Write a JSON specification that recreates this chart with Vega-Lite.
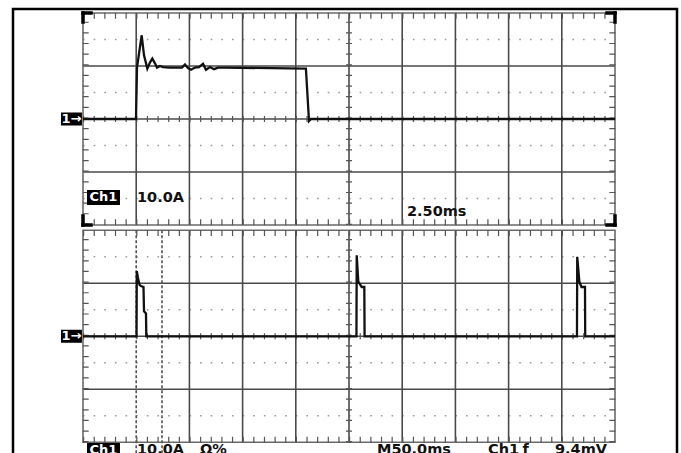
{
  "$schema": "https://vega.github.io/schema/vega-lite/v6.json",
  "width": 664,
  "height": 450,
  "autosize": {"type": "none"},
  "padding": {"left": 13, "top": 9, "right": 4, "bottom": 0},
  "background": "white",
  "config": {"view": {"stroke": "#000", "strokeWidth": 2.5}},
  "datasets": {
    "borders": [
      {"x": 0, "x2": 10, "y": 4.1, "y2": 8.1},
      {"x": 0, "x2": 10, "y": 0, "y2": 4}
    ],
    "grid": [
      {"x": 1, "x2": 1, "y": 4.1, "y2": 8.1},
      {"x": 2, "x2": 2, "y": 4.1, "y2": 8.1},
      {"x": 3, "x2": 3, "y": 4.1, "y2": 8.1},
      {"x": 4, "x2": 4, "y": 4.1, "y2": 8.1},
      {"x": 5, "x2": 5, "y": 4.1, "y2": 8.1},
      {"x": 6, "x2": 6, "y": 4.1, "y2": 8.1},
      {"x": 7, "x2": 7, "y": 4.1, "y2": 8.1},
      {"x": 8, "x2": 8, "y": 4.1, "y2": 8.1},
      {"x": 9, "x2": 9, "y": 4.1, "y2": 8.1},
      {"x": 0, "x2": 10, "y": 5.1, "y2": 5.1},
      {"x": 0, "x2": 10, "y": 6.1, "y2": 6.1},
      {"x": 0, "x2": 10, "y": 7.1, "y2": 7.1},
      {"x": 2, "x2": 2, "y": 0, "y2": 4},
      {"x": 3, "x2": 3, "y": 0, "y2": 4},
      {"x": 4, "x2": 4, "y": 0, "y2": 4},
      {"x": 5, "x2": 5, "y": 0, "y2": 4},
      {"x": 6, "x2": 6, "y": 0, "y2": 4},
      {"x": 7, "x2": 7, "y": 0, "y2": 4},
      {"x": 8, "x2": 8, "y": 0, "y2": 4},
      {"x": 9, "x2": 9, "y": 0, "y2": 4},
      {"x": 0, "x2": 10, "y": 1, "y2": 1},
      {"x": 0, "x2": 10, "y": 2, "y2": 2},
      {"x": 0, "x2": 10, "y": 3, "y2": 3}
    ],
    "ticks": [
      {"x": 0, "x2": 10, "y": 6.1, "y2": 6.1},
      {"x": 5, "x2": 5, "y": 4.1, "y2": 8.1},
      {"x": 0, "x2": 10, "y": 8.05, "y2": 8.05},
      {"x": 0, "x2": 10, "y": 4.15, "y2": 4.15},
      {"x": 0.05, "x2": 0.05, "y": 4.1, "y2": 8.1},
      {"x": 9.95, "x2": 9.95, "y": 4.1, "y2": 8.1},
      {"x": 0, "x2": 10, "y": 2, "y2": 2},
      {"x": 5, "x2": 5, "y": 0, "y2": 4},
      {"x": 0, "x2": 10, "y": 3.95, "y2": 3.95},
      {"x": 0, "x2": 10, "y": 0.05, "y2": 0.05},
      {"x": 0.05, "x2": 0.05, "y": 0, "y2": 4},
      {"x": 9.95, "x2": 9.95, "y": 0, "y2": 4}
    ],
    "dots": [
      {"x": 0, "x2": 10, "y": 4.6, "y2": 4.6},
      {"x": 0, "x2": 10, "y": 5.6, "y2": 5.6},
      {"x": 0, "x2": 10, "y": 6.6, "y2": 6.6},
      {"x": 0, "x2": 10, "y": 7.6, "y2": 7.6},
      {"x": 0, "x2": 10, "y": 0.5, "y2": 0.5},
      {"x": 0, "x2": 10, "y": 1.5, "y2": 1.5},
      {"x": 0, "x2": 10, "y": 2.5, "y2": 2.5},
      {"x": 0, "x2": 10, "y": 3.5, "y2": 3.5}
    ],
    "corners": [
      {"x": 0, "x2": 0.15, "y": 8.1, "y2": 8.1},
      {"x": 0, "x2": 0, "y": 8.1, "y2": 7.93},
      {"x": 9.85, "x2": 10, "y": 8.1, "y2": 8.1},
      {"x": 10, "x2": 10, "y": 8.1, "y2": 7.93},
      {"x": 0, "x2": 0.15, "y": 4.1, "y2": 4.1},
      {"x": 0, "x2": 0, "y": 4.1, "y2": 4.27},
      {"x": 9.85, "x2": 10, "y": 4.1, "y2": 4.1},
      {"x": 10, "x2": 10, "y": 4.1, "y2": 4.27}
    ],
    "cursors": [
      {"x": 1.0, "x2": 1.0, "y": 4, "y2": -0.315},
      {"x": 1.485, "x2": 1.485, "y": 4, "y2": -0.315}
    ],
    "traceTop": [
      {"i": 0, "x": 0, "y": 6.1},
      {"i": 1, "x": 0.996, "y": 6.1},
      {"i": 2, "x": 1.015, "y": 7.07},
      {"i": 3, "x": 1.103, "y": 7.68},
      {"i": 4, "x": 1.147, "y": 7.3},
      {"i": 5, "x": 1.209, "y": 7.05},
      {"i": 6, "x": 1.26, "y": 7.17},
      {"i": 7, "x": 1.303, "y": 7.24},
      {"i": 8, "x": 1.353, "y": 7.15},
      {"i": 9, "x": 1.391, "y": 7.07},
      {"i": 10, "x": 1.447, "y": 7.1},
      {"i": 11, "x": 1.504, "y": 7.08},
      {"i": 12, "x": 1.635, "y": 7.07},
      {"i": 13, "x": 1.861, "y": 7.07},
      {"i": 14, "x": 1.917, "y": 7.13},
      {"i": 15, "x": 1.974, "y": 7.06},
      {"i": 16, "x": 2.03, "y": 7.03},
      {"i": 17, "x": 2.105, "y": 7.07},
      {"i": 18, "x": 2.18, "y": 7.08},
      {"i": 19, "x": 2.256, "y": 7.14},
      {"i": 20, "x": 2.312, "y": 7.03},
      {"i": 21, "x": 2.387, "y": 7.08},
      {"i": 22, "x": 2.462, "y": 7.04},
      {"i": 23, "x": 2.538, "y": 7.07},
      {"i": 24, "x": 2.669, "y": 7.07},
      {"i": 25, "x": 4.19, "y": 7.05},
      {"i": 26, "x": 4.22, "y": 6.54},
      {"i": 27, "x": 4.248, "y": 6.06},
      {"i": 28, "x": 4.286, "y": 6.1},
      {"i": 29, "x": 10, "y": 6.1}
    ],
    "traceBottom": [
      {"i": 0, "x": 0, "y": 2},
      {"i": 1, "x": 1.006, "y": 2},
      {"i": 2, "x": 1.011, "y": 3.23},
      {"i": 3, "x": 1.034, "y": 3.1},
      {"i": 4, "x": 1.062, "y": 2.97},
      {"i": 5, "x": 1.09, "y": 2.95},
      {"i": 6, "x": 1.137, "y": 2.93},
      {"i": 7, "x": 1.147, "y": 2.47},
      {"i": 8, "x": 1.184, "y": 2.43},
      {"i": 9, "x": 1.19, "y": 2},
      {"i": 10, "x": 5.14, "y": 2},
      {"i": 11, "x": 5.145, "y": 3.53},
      {"i": 12, "x": 5.175, "y": 3.03},
      {"i": 13, "x": 5.239, "y": 2.93},
      {"i": 14, "x": 5.288, "y": 2.93},
      {"i": 15, "x": 5.293, "y": 2},
      {"i": 16, "x": 9.285, "y": 2},
      {"i": 17, "x": 9.29, "y": 3.5},
      {"i": 18, "x": 9.33, "y": 3.03},
      {"i": 19, "x": 9.37, "y": 2.93},
      {"i": 20, "x": 9.436, "y": 2.93},
      {"i": 21, "x": 9.44, "y": 2},
      {"i": 22, "x": 10, "y": 2}
    ],
    "boxes": [
      {"x": -0.414, "x2": -0.02, "y": 5.977, "y2": 6.223},
      {"x": -0.414, "x2": -0.02, "y": 1.877, "y2": 2.123},
      {"x": 0.075, "x2": 0.695, "y": 4.477, "y2": 4.76},
      {"x": 0.075, "x2": 0.695, "y": -0.315, "y2": -0.013}
    ],
    "boxText": [
      {"x": -0.217, "y": 6.1, "text": "1→"},
      {"x": -0.217, "y": 2, "text": "1→"},
      {"x": 0.385, "y": 4.62, "text": "Ch1"},
      {"x": 0.385, "y": -0.14, "text": "Ch1"}
    ],
    "labels": [
      {"x": 1.015, "y": 4.609, "text": "10.0A"},
      {"x": 6.09, "y": 4.345, "text": "2.50ms"},
      {"x": 1.015, "y": -0.14, "text": "10.0A"},
      {"x": 2.2, "y": -0.14, "text": "Ω%"},
      {"x": 5.526, "y": -0.14, "text": "M50.0ms"},
      {"x": 7.613, "y": -0.14, "text": "Ch1"},
      {"x": 8.26, "y": -0.14, "text": "ƒ"},
      {"x": 8.872, "y": -0.14, "text": "9.4mV"}
    ]
  },
  "encoding": {
    "x": {"field": "x", "type": "quantitative", "scale": {"domain": [-1.3158, 11.1654], "nice": false, "zero": false}, "axis": null},
    "y": {"field": "y", "type": "quantitative", "scale": {"domain": [-0.3151, 8.1755], "nice": false, "zero": false}, "axis": null}
  },
  "layer": [
    {
      "data": {"name": "dots"},
      "mark": {"type": "rule", "color": "#9a9a9a", "strokeWidth": 1.6, "strokeDash": [1.6, 9.04]},
      "encoding": {"x2": {"field": "x2"}, "y2": {"field": "y2"}}
    },
    {
      "data": {"name": "grid"},
      "mark": {"type": "rule", "color": "#4a4a4a", "strokeWidth": 1.6},
      "encoding": {"x2": {"field": "x2"}, "y2": {"field": "y2"}}
    },
    {
      "data": {"name": "borders"},
      "mark": {"type": "rect", "fill": null, "fillOpacity": 0, "stroke": "#6a6a6a", "strokeWidth": 1.6},
      "encoding": {"x2": {"field": "x2"}, "y2": {"field": "y2"}}
    },
    {
      "data": {"name": "ticks"},
      "mark": {"type": "rule", "color": "#555555", "strokeWidth": 6, "strokeDash": [1.2, 9.44]},
      "encoding": {"x2": {"field": "x2"}, "y2": {"field": "y2"}}
    },
    {
      "data": {"name": "cursors"},
      "mark": {"type": "rule", "color": "#555555", "strokeWidth": 1.6, "strokeDash": [3, 2]},
      "encoding": {"x2": {"field": "x2"}, "y2": {"field": "y2"}}
    },
    {
      "data": {"name": "corners"},
      "mark": {"type": "rule", "color": "#000", "strokeWidth": 3.5, "strokeCap": "square"},
      "encoding": {"x2": {"field": "x2"}, "y2": {"field": "y2"}}
    },
    {
      "data": {"name": "traceTop"},
      "mark": {"type": "line", "color": "#111", "strokeWidth": 2.3, "strokeJoin": "miter"},
      "encoding": {"order": {"field": "i", "type": "quantitative"}}
    },
    {
      "data": {"name": "traceBottom"},
      "mark": {"type": "line", "color": "#111", "strokeWidth": 2.3, "strokeJoin": "miter"},
      "encoding": {"order": {"field": "i", "type": "quantitative"}}
    },
    {
      "data": {"name": "boxes"},
      "mark": {"type": "rect", "color": "#000"},
      "encoding": {"x2": {"field": "x2"}, "y2": {"field": "y2"}}
    },
    {
      "data": {"name": "boxText"},
      "mark": {"type": "text", "color": "#fff", "font": "DejaVu Sans", "fontWeight": "bold", "fontSize": 13, "align": "center", "baseline": "middle"},
      "encoding": {"text": {"field": "text"}}
    },
    {
      "data": {"name": "labels"},
      "mark": {"type": "text", "color": "#111", "font": "DejaVu Sans", "fontWeight": "bold", "fontSize": 14.5, "align": "left", "baseline": "middle"},
      "encoding": {"text": {"field": "text"}}
    }
  ]
}
